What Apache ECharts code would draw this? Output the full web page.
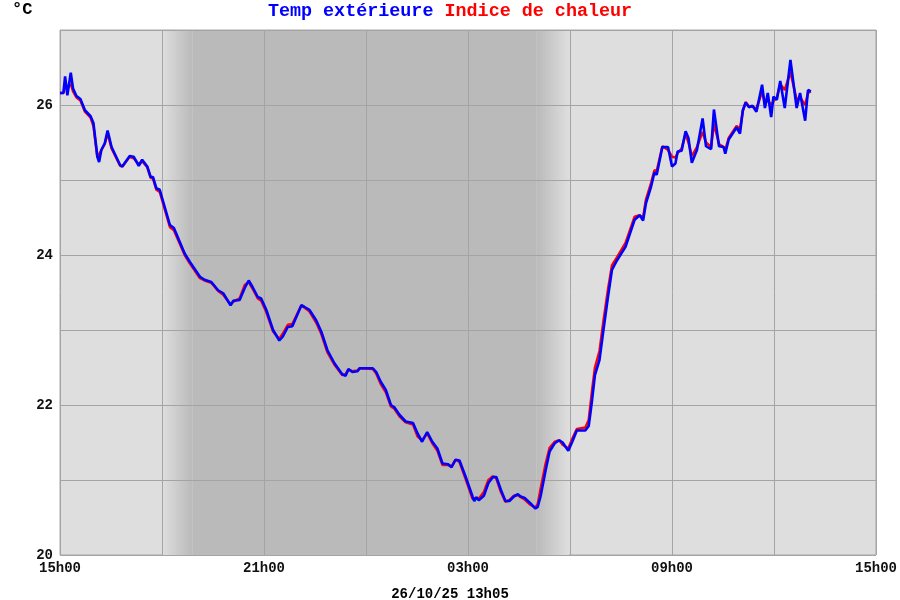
<!DOCTYPE html>
<html><head><meta charset="utf-8">
<script src="https://cdn.jsdelivr.net/npm/echarts@6/dist/echarts.min.js"></script>
<style>html,body{margin:0;padding:0;background:#fff}#c{width:900px;height:600px}</style>
</head><body><div id="c"></div>
<script>
const times = [
'15:00','15:06','15:09','15:13','15:19','15:23','15:29','15:36','15:44','15:54',
'15:59','16:06','16:09','16:13','16:19','16:24','16:31','16:46','16:50','17:03',
'17:10','17:19','17:25','17:34','17:40','17:44','17:50','17:56','18:14','18:21',
'18:40','18:49','19:07','19:15','19:27','19:39','19:48','20:01','20:06','20:17',
'20:26','20:33','20:40','20:49','20:55','21:04','21:16','21:27','21:33','21:42',
'21:50','22:06','22:11','22:20','22:32','22:41','22:52','23:04','23:18','23:24',
'23:29','23:36','23:45','23:49','00:12','00:18','00:26','00:35','00:44','00:50',
'00:59','01:10','01:23','01:31','01:39','01:48','01:57','02:06','02:15','02:25',
'02:31','02:38','02:45','02:56','03:08','03:11','03:15','03:19','03:28','03:36',
'03:44','03:50','03:58','04:06','04:13','04:21','04:28','04:33','04:40','04:50',
'04:59','05:03','05:08','05:17','05:24','05:33','05:41','05:47','05:57','06:04',
'06:12','06:27','06:33','06:36','06:39','06:44','06:52','06:59','07:07','07:14',
'07:23','07:38','07:54','08:03','08:09','08:14','08:23','08:29','08:33','08:43',
'08:53','09:00','09:06','09:10','09:17','09:24','09:29','09:35','09:44','09:54',
'10:00','10:09','10:14','10:23','10:31','10:34','10:40','10:54','11:00','11:05',
'11:10','11:16','11:22','11:29','11:39','11:44','11:49','11:55','11:59','12:05',
'12:11','12:19','12:29','12:40','12:46','12:55','13:00','13:05'];

const tempExt = [
26.16,26.16,26.38,26.13,26.43,26.22,26.12,26.08,25.93,25.85,
25.76,25.31,25.24,25.40,25.49,25.66,25.44,25.20,25.18,25.32,
25.31,25.19,25.27,25.18,25.04,25.04,24.89,24.87,24.40,24.36,
24.02,23.91,23.71,23.67,23.64,23.53,23.49,23.33,23.39,23.40,
23.56,23.66,23.57,23.44,23.42,23.27,23.00,22.86,22.91,23.04,
23.05,23.33,23.31,23.27,23.13,22.98,22.73,22.56,22.41,22.39,
22.48,22.44,22.45,22.49,22.49,22.44,22.31,22.20,22.00,21.97,
21.87,21.78,21.76,21.62,21.51,21.64,21.51,21.42,21.22,21.21,
21.17,21.27,21.26,21.04,20.78,20.72,20.77,20.73,20.79,20.96,
21.04,21.04,20.87,20.72,20.72,20.78,20.81,20.78,20.76,20.69,
20.62,20.64,20.78,21.13,21.38,21.49,21.53,21.50,21.39,21.51,
21.66,21.66,21.72,21.89,22.07,22.40,22.60,23.00,23.44,23.80,
23.93,24.11,24.47,24.53,24.46,24.69,24.91,25.10,25.07,25.44,
25.44,25.18,25.22,25.38,25.39,25.65,25.56,25.23,25.40,25.82,
25.45,25.41,25.94,25.45,25.44,25.35,25.54,25.70,25.62,25.93,
26.03,25.97,25.99,25.91,26.27,25.96,26.16,25.84,26.11,26.07,
26.32,25.96,26.60,25.96,26.16,25.79,26.20,26.18];

const heatIndex = [
26.16,26.16,26.26,26.22,26.28,26.18,26.10,26.06,25.91,25.83,
25.72,25.30,25.30,25.40,25.48,25.62,25.42,25.19,25.18,25.31,
25.29,25.21,25.25,25.17,25.03,25.02,24.87,24.84,24.37,24.33,
24.00,23.89,23.69,23.66,23.63,23.52,23.47,23.34,23.38,23.42,
23.60,23.64,23.55,23.42,23.39,23.24,22.98,22.88,22.95,23.07,
23.08,23.33,23.30,23.25,23.10,22.95,22.70,22.54,22.40,22.41,
22.47,22.45,22.46,22.49,22.48,22.42,22.28,22.17,21.98,21.95,
21.85,21.77,21.74,21.58,21.53,21.62,21.49,21.39,21.20,21.20,
21.18,21.27,21.24,21.01,20.75,20.74,20.76,20.75,20.84,21.00,
21.05,21.02,20.84,20.71,20.73,20.79,20.80,20.77,20.74,20.67,
20.63,20.68,20.88,21.22,21.43,21.51,21.53,21.47,21.42,21.55,
21.68,21.70,21.80,22.00,22.20,22.50,22.72,23.12,23.54,23.86,
23.97,24.16,24.51,24.53,24.50,24.74,24.96,25.13,25.12,25.45,
25.40,25.31,25.30,25.36,25.42,25.62,25.50,25.32,25.44,25.64,
25.50,25.44,25.75,25.48,25.44,25.40,25.56,25.72,25.68,25.92,
26.04,25.98,25.98,25.95,26.18,26.02,26.06,26.00,26.05,26.10,
26.28,26.20,26.44,26.07,26.10,26.00,26.16,26.18];

const xTickLabels = ['15h00','21h00','03h00','09h00','15h00'];
const yTickLabels = [20, 22, 24, 26];
const nightFadeIn = ['18:00', '18:54'];
const nightFadeOut = ['05:01', '05:58'];
const stamp = '26/10/25 13h05';
const unitLabel = '°C';

const FONT = '"Liberation Mono", "Courier New", monospace';
function toMin(t) {
  const p = t.split(':').map(Number);
  let v = p[0] * 60 + p[1] - 900;
  if (v < 0) v += 1440;
  return v;
}
const blueData = times.map((t, i) => [toMin(t), tempExt[i]]);
const redData = times.map((t, i) => [toMin(t), heatIndex[i]]);

const DAY = '#dedede', NIGHT = '#bababa';
const chart = echarts.init(document.getElementById('c'), null, {renderer: 'canvas'});
chart.setOption({
  animation: false,
  backgroundColor: '#ffffff',
  title: [
    {
      text: '{a|Temp extérieure} {b|Indice de chaleur}',
      left: 'center', top: -3,
      textStyle: {
        fontFamily: FONT, fontSize: 18.4, fontWeight: 'bold', color: '#000',
        rich: {
          a: {fontFamily: FONT, fontSize: 18.4, fontWeight: 'bold', color: '#0000ff'},
          b: {fontFamily: FONT, fontSize: 18.4, fontWeight: 'bold', color: '#ff0000'}
        }
      }
    },
    {
      text: unitLabel, left: 7, top: -4,
      textStyle: {fontFamily: FONT, fontSize: 17, fontWeight: 'bold', color: '#000'}
    },
    {
      text: stamp, left: 'center', top: 582,
      textStyle: {fontFamily: FONT, fontSize: 14, fontWeight: 'bold', color: '#000'}
    }
  ],
  grid: {
    left: 60, right: 21, top: 30, bottom: 45,
    show: true, backgroundColor: DAY, borderColor: '#a8a8a8', borderWidth: 1
  },
  xAxis: {
    type: 'value', min: 0, max: 1440, interval: 180, z: 2,
    axisLine: {show: false}, axisTick: {show: false},
    splitLine: {show: true, lineStyle: {color: '#a4a4a4', width: 1}},
    axisLabel: {
      showMaxLabel: true, showMinLabel: true, margin: 6,
      fontFamily: FONT, fontSize: 14, fontWeight: 'bold', color: '#111',
      formatter: v => (v % 360 === 0 ? xTickLabels[v / 360] : '')
    }
  },
  yAxis: {
    type: 'value', min: 20, max: 27, interval: 1, z: 2,
    axisLine: {show: false}, axisTick: {show: false},
    splitLine: {show: true, lineStyle: {color: '#a4a4a4', width: 1}},
    axisLabel: {
      margin: 7, fontFamily: FONT, fontSize: 14, fontWeight: 'bold', color: '#111',
      formatter: v => (yTickLabels.indexOf(v) >= 0 ? String(v) : '')
    }
  },
  series: [
    {
      type: 'line', data: [], z: 1, silent: true,
      markArea: {
        silent: true,
        data: [
          [{xAxis: toMin(nightFadeIn[0]), itemStyle: {opacity: 1, color: new echarts.graphic.LinearGradient(0, 0, 1, 0, [{offset: 0, color: DAY}, {offset: 1, color: NIGHT}])}},
           {xAxis: toMin(nightFadeIn[1])}],
          [{xAxis: toMin(nightFadeIn[1]), itemStyle: {opacity: 1, color: NIGHT}},
           {xAxis: toMin(nightFadeOut[0])}],
          [{xAxis: toMin(nightFadeOut[0]), itemStyle: {opacity: 1, color: new echarts.graphic.LinearGradient(0, 0, 1, 0, [{offset: 0, color: NIGHT}, {offset: 1, color: DAY}])}},
           {xAxis: toMin(nightFadeOut[1])}]
        ]
      }
    },
    {
      name: 'Indice de chaleur', type: 'line', data: redData, z: 3,
      showSymbol: false, symbol: 'none',
      lineStyle: {color: '#ff0000', width: 2.5}
    },
    {
      name: 'Temp extérieure', type: 'line', data: blueData, z: 4,
      showSymbol: false, symbol: 'none',
      lineStyle: {color: '#0000ff', width: 2.6}
    }
  ]
});
</script>
</body></html>
